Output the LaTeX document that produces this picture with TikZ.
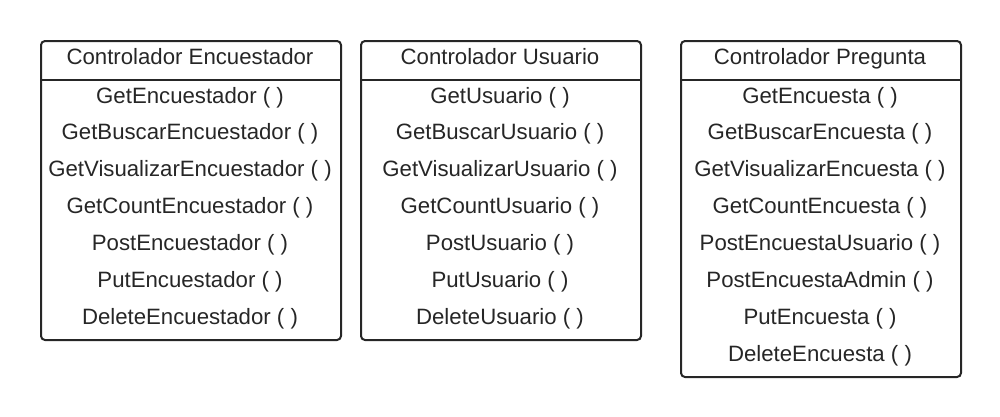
\documentclass[tikz,border=0pt]{standalone}
\usepackage{fontspec}
\setmainfont{Liberation Sans}
\usetikzlibrary{calc}
\begin{document}
\begin{tikzpicture}[x=1pt,y=-1pt,
  box/.style={draw=black!85,line width=2pt,rounded corners=4pt,inner sep=0pt,anchor=north west},
  lbl/.style={font=\fontsize{22.2}{25}\selectfont,text=black!85,inner sep=0pt,anchor=base},
  divider/.style={draw=black!85,line width=2pt}]
\useasboundingbox (0,0) rectangle (1000,416);
% boxes
\node[box,minimum width=300pt,minimum height=299pt] (b1) at (40,40) {};
\node[box,minimum width=280pt,minimum height=299pt] (b2) at (360,40) {};
\node[box,minimum width=280pt,minimum height=336pt] (b3) at (680,40) {};
\foreach \b in {b1,b2,b3}{
  \draw[divider] ($(\b.north west)+(0,39.5)$) -- ($(\b.north east)+(0,39.5)$);
}
% titles
\node[lbl] (t1) at (190,64) {Controlador Encuestador};
\node[lbl] (t2) at (500,64) {Controlador Usuario};
\node[lbl] (t3) at (820,64) {Controlador Pregunta};
% box 1 items
\foreach \i/\t in {0/GetEncuestador ( ),1/GetBuscarEncuestador ( ),2/GetVisualizarEncuestador ( ),3/GetCountEncuestador ( ),4/PostEncuestador ( ),5/PutEncuestador ( ),6/DeleteEncuestador ( )}{
  \node[lbl] (a\i) at (190,103+36.9*\i) {\t};
}
\foreach \i/\t in {0/GetUsuario ( ),1/GetBuscarUsuario ( ),2/GetVisualizarUsuario ( ),3/GetCountUsuario ( ),4/PostUsuario ( ),5/PutUsuario ( ),6/DeleteUsuario ( )}{
  \node[lbl] (u\i) at (500,103+36.9*\i) {\t};
}
\foreach \i/\t in {0/GetEncuesta ( ),1/GetBuscarEncuesta ( ),2/GetVisualizarEncuesta ( ),3/GetCountEncuesta ( ),4/PostEncuestaUsuario ( ),5/PostEncuestaAdmin ( ),6/PutEncuesta ( ),7/DeleteEncuesta ( )}{
  \node[lbl] (p\i) at (820,103+36.9*\i) {\t};
}
\end{tikzpicture}
\end{document}
